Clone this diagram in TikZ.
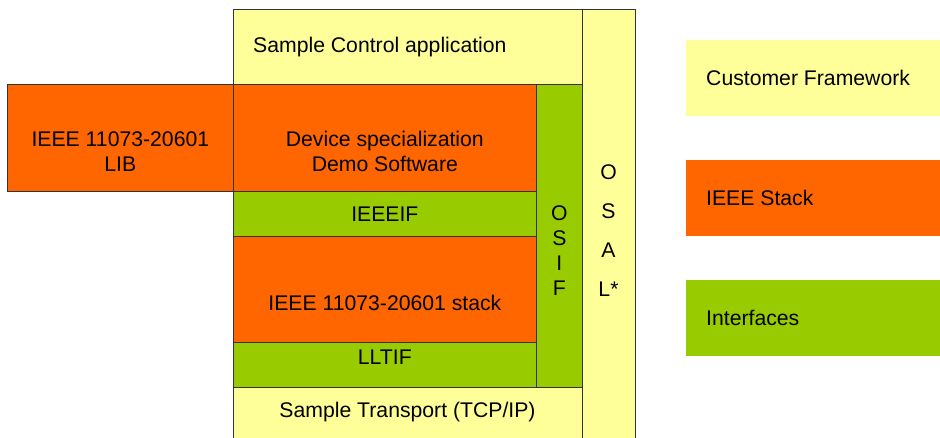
\documentclass[tikz,border=0pt]{standalone}
\usepackage{fontspec}
\setmainfont{Liberation Sans}
\usepackage{tikz}
\usepackage{xcolor}
\usetikzlibrary{positioning}
\definecolor{cfw}{HTML}{FFFF99}
\definecolor{ieee}{HTML}{FF6600}
\definecolor{intf}{HTML}{99CC00}
\tikzset{
  layer/.style={draw=black!80, line width=0.7pt, inner sep=0pt, anchor=north west},
  legendbox/.style={inner sep=0pt, anchor=north west, minimum width=260pt, minimum height=76pt},
  lbl/.style={font=\fontsize{21.2}{25}\selectfont, align=center, inner sep=0pt}
}
\begin{document}
\begin{tikzpicture}[x=1pt,y=1pt]
\useasboundingbox (0,0) rectangle (940,-437);
\clip (0,0) rectangle (940,-437);
% Stack
\node[layer, fill=cfw, minimum width=53pt, minimum height=440pt] (osal) at (582,-9) {};
\node[layer, fill=cfw, minimum width=349pt, minimum height=75pt] (app) at (233,-9) {};
\node[layer, fill=ieee, minimum width=226pt, minimum height=107pt] (lib) at (7,-84) {};
\node[layer, fill=ieee, minimum width=303pt, minimum height=107pt] (dev) at (233,-84) {};
\node[layer, fill=intf, minimum width=46pt, minimum height=303pt] (osif) at (536,-84) {};
\node[layer, fill=intf, minimum width=303pt, minimum height=45pt] (ieeeif) at (233,-191) {};
\node[layer, fill=ieee, minimum width=303pt, minimum height=106pt] (stack) at (233,-236) {};
\node[layer, fill=intf, minimum width=303pt, minimum height=45pt] (lltif) at (233,-342) {};
\node[layer, fill=cfw, minimum width=349pt, minimum height=60pt] (trans) at (233,-387) {};

% Texts
\node[lbl, anchor=west, right=20pt of app.west] {Sample Control application};
\node[lbl] at ([yshift=-14pt]lib.center) {IEEE 11073-20601\\LIB};
\node[lbl] at ([yshift=-14pt]dev.center) {Device specialization\\Demo Software};
\node[lbl] at (ieeeif.center) {IEEEIF};
\node[lbl] at ([yshift=-14pt]stack.center) {IEEE 11073-20601 stack};
\node[lbl] at ([yshift=8pt]lltif.center) {LLTIF};
\node[lbl] at (407.5,-412) {Sample Transport (TCP/IP)};
\node[lbl] at ([yshift=-15pt]osif.center) {O\\S\\I\\F};
\node[lbl] at (608.5,-231) {O\\[14pt]S\\[14pt]A\\[14pt]L*};

% Legend
\node[legendbox, fill=cfw] (leg1) at (686,-40) {};
\node[legendbox, fill=ieee] (leg2) at (686,-160) {};
\node[legendbox, fill=intf] (leg3) at (686,-280) {};
\node[lbl, anchor=west, right=20pt of leg1.west] {Customer Framework};
\node[lbl, anchor=west, right=20pt of leg2.west] {IEEE Stack};
\node[lbl, anchor=west, right=20pt of leg3.west] {Interfaces};
\end{tikzpicture}
\end{document}
